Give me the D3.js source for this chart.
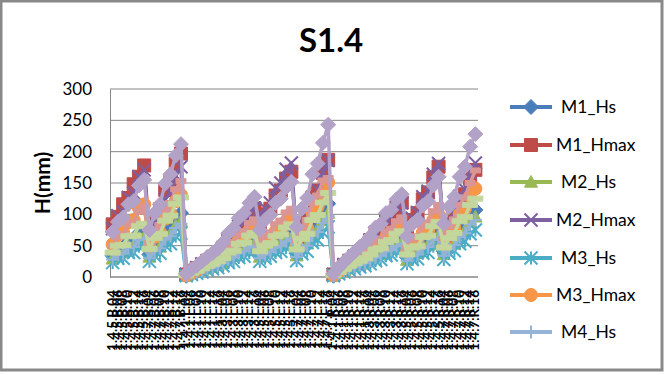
<!DOCTYPE html>
<script src="https://cdn.jsdelivr.net/npm/d3@7"></script>
<html>
<head>
<style>
  body { margin: 0; background: #fff; }
  text { font-family: Lato, "Open Sans", sans-serif; }
</style>
</head>
<body>
<div id="chart-div"></div>
<script>
// category labels: group code x wave height code
const groupCodes = ["5.B", "7.B", "1.L", "3.L", "5.L", "7.L", "1.R", "3.R", "5.R", "7.R"];
const heightCodes = ["04", "06", "08", "10", "12", "14", "16"];
const categories = groupCodes.flatMap(g => heightCodes.map(h => "1.4." + g + "." + h));

const seriesNames = ["M1_Hs", "M1_Hmax", "M2_Hs", "M2_Hmax", "M3_Hs", "M3_Hmax", "M4_Hs", "M4_Hmax", "M5_Hs", "M5_Hmax"];

const m1Hs = [34,44,45,56,58,70,74, 36,49,56,72,79,93,102, 2,6,9,12,15,18,22, 26,34,37,45,49,57,61, 36,43,48,56,60,68,73, 38,52,60,79,87,103,117, 2,7,12,15,19,23,26, 31,37,41,49,52,59,63, 31,40,44,55,58,70,77, 41,54,61,77,84,100,107];
const m1Hmax = [84,96,116,126,148,160,178, 70,95,108,139,152,181,197, 4,10,14,20,26,30,36, 47,60,66,80,86,101,109, 82,100,109,130,138,157,168, 62,85,96,127,138,166,187, 4,12,19,26,32,38,44, 59,70,77,91,97,111,119, 72,91,102,124,135,159,176, 64,84,96,120,132,156,171];
const m2Hs = [29,38,39,49,51,62,65, 32,43,48,63,69,82,89, 2,5,8,11,13,16,19, 23,30,33,40,43,50,54, 32,38,42,49,53,60,64, 34,46,53,69,76,90,102, 2,6,10,13,17,20,23, 27,33,36,43,45,52,55, 27,36,38,48,51,62,67, 36,47,53,68,74,88,96];
const m2Hmax = [77,98,104,127,134,160,171, 62,84,97,124,135,162,176, 4,9,15,21,25,31,35, 46,59,67,81,87,100,110, 90,110,118,142,150,172,182, 63,84,97,126,139,167,186, 4,11,20,25,33,37,45, 58,71,76,92,96,112,118, 73,94,103,128,137,164,181, 68,90,102,129,140,167,182];
const m3Hs = [23,30,30,39,39,49,51, 25,34,38,50,53,65,70, 2,4,6,8,11,13,15, 18,23,25,31,33,39,42, 25,30,33,39,41,47,50, 26,37,41,55,59,71,80, 2,5,8,11,13,16,18, 21,26,28,34,35,41,44, 21,28,29,38,39,49,53, 28,38,42,53,57,69,75];
const m3Hmax = [52,67,71,87,91,110,116, 47,64,71,93,101,121,131, 3,7,11,16,20,24,28, 34,44,48,59,62,74,79, 47,57,61,73,77,89,94, 50,68,78,102,112,133,151, 3,9,15,20,25,30,34, 40,49,53,63,66,77,82, 40,53,56,71,75,91,99, 53,70,79,100,109,129,141];
const m4Hs = [28,36,37,47,48,59,62, 30,41,46,60,65,78,85, 2,5,7,10,13,15,18, 22,28,31,38,41,47,51, 30,36,40,47,50,57,61, 32,44,50,66,72,86,97, 2,6,10,13,16,19,22, 26,31,34,41,43,49,53, 26,34,36,46,48,59,64, 34,45,51,64,70,84,91];
const m4Hmax = [50,64,68,84,87,105,112, 54,74,83,107,118,140,153, 4,9,13,18,23,27,32, 40,51,56,68,73,86,92, 54,65,71,85,90,103,109, 58,79,91,118,130,154,158, 4,11,17,23,29,35,40, 47,57,61,73,77,89,95, 47,61,65,82,87,105,115, 61,81,92,115,127,150,170];
const m5Hs = [39,50,51,65,66,81,85, 45,62,69,90,98,117,127, 3,7,10,14,18,21,25, 30,39,42,53,55,66,70, 41,50,54,65,68,79,84, 44,61,69,91,99,119,134, 3,8,13,18,22,26,30, 36,44,46,56,59,69,73, 36,47,49,64,66,81,88, 47,62,70,89,96,115,125];
const m5Hmax = [72,88,95,116,121,146,155, 75,102,116,149,164,194,212, 5,12,18,25,32,38,45, 55,70,78,94,102,118,128, 75,91,99,118,125,143,152, 80,109,126,164,181,214,243, 5,15,24,32,40,48,55, 65,79,85,102,107,124,132, 65,84,91,114,121,146,160, 85,112,128,160,176,208,228];

const yTicks = [0, 50, 100, 150, 200, 250, 300];

// styles
const colors = ["#4A7EBB", "#BE4B48", "#98B954", "#7D60A0", "#4BACC6", "#F79646", "#95B3D7", "#D99694", "#C3D69B", "#B3A2C7"];
const markers = ["diamond", "square", "triangle", "x", "star", "circle", "plus", "dash", "bar", "diamond"];
const allValues = [m1Hs, m1Hmax, m2Hs, m2Hmax, m3Hs, m3Hmax, m4Hs, m4Hmax, m5Hs, m5Hmax];
const series = seriesNames.map((name, i) => ({ name, color: colors[i], marker: markers[i], values: allValues[i] }));

const width = 664, height = 375;
const plot = { left: 110, right: 478, top: 89, bottom: 277 };

const svg = d3.select("#chart-div")
    .append("svg")
    .attr("width", width)
    .attr("height", height);

svg.append("rect")
    .attr("width", width).attr("height", height).attr("fill", "#fff");

const x = d3.scalePoint()
    .domain(categories)
    .range([plot.left, plot.right])
    .padding(0.5);

const y = d3.scaleLinear()
    .domain([0, 300])
    .range([plot.bottom, plot.top]);

// gridlines
svg.append("g")
    .selectAll("line")
    .data(yTicks)
    .enter()
    .append("line")
    .attr("x1", plot.left).attr("x2", plot.right)
    .attr("y1", d => y(d)).attr("y2", d => y(d))
    .attr("stroke", "#868686").attr("stroke-width", 1);

// y axis
const yAxis = svg.append("g")
    .attr("transform", "translate(" + plot.left + ",0)")
    .call(d3.axisLeft(y).tickValues(yTicks).tickSize(0).tickPadding(18));
yAxis.select(".domain").attr("stroke", "#868686");
yAxis.selectAll("text")
    .style("font-family", "Lato, sans-serif")
    .style("font-size", "17px")
    .attr("fill", "#000");

// x axis line
svg.append("line")
    .attr("x1", plot.left).attr("x2", plot.right)
    .attr("y1", plot.bottom).attr("y2", plot.bottom)
    .attr("stroke", "#868686");

// x labels, rotated
svg.append("g")
    .selectAll("text")
    .data(categories)
    .enter()
    .append("text")
    .attr("transform", d => "translate(" + (x(d) + 4) + ",290) rotate(-90)")
    .attr("text-anchor", "end")
    .style("font-size", "13.5px")
    .style("font-weight", "bold")
    .attr("fill", "#000")
    .text(d => d);

function markerPath(shape, s) {
    const h = s / 2;
    switch (shape) {
        case "diamond": return `M0,${-h}L${h},0L0,${h}L${-h},0Z`;
        case "square": return `M${-h},${-h}h${s}v${s}h${-s}Z`;
        case "triangle": return `M0,${-h}L${h},${h * 0.8}L${-h},${h * 0.8}Z`;
        case "x": return `M${-h},${-h}L${h},${h}M${h},${-h}L${-h},${h}`;
        case "star": return `M${-h},${-h}L${h},${h}M${h},${-h}L${-h},${h}M0,${-h}V${h}`;
        case "circle": return d3.arc()({ innerRadius: 0, outerRadius: h, startAngle: 0, endAngle: 2 * Math.PI });
        case "plus": return `M0,${-h}V${h}M${-h},0H${h}`;
        case "dash": return `M${-h},-2.5h${s}v5h${-s}Z`;
        case "bar": return `M${-h},-2.5h${s}v5h${-s}Z`;
    }
}
const markerSize = { diamond: 15, square: 13, triangle: 13, x: 13, star: 13, circle: 13, plus: 13, dash: 10, bar: 15 };
const stroked = { x: true, star: true, plus: true };

function drawMarker(g, shape, color) {
    g.append("path")
        .attr("d", markerPath(shape, markerSize[shape]))
        .attr("fill", stroked[shape] ? "none" : color)
        .attr("stroke", color)
        .attr("stroke-width", stroked[shape] ? 2 : 1);
}

const line = d3.line()
    .x((d, i) => x(categories[i]))
    .y(d => y(d));

// series, drawn in order
series.forEach(s => {
    const g = svg.append("g");
    g.append("path")
        .attr("d", line(s.values))
        .attr("fill", "none")
        .attr("stroke", s.color)
        .attr("stroke-width", 3.5)
        .attr("stroke-linejoin", "round");
    s.values.forEach((v, i) => {
        const m = g.append("g").attr("transform", "translate(" + x(categories[i]) + "," + y(v) + ")");
        drawMarker(m, s.marker, s.color);
    });
});

// title
svg.append("text")
    .attr("x", 331).attr("y", 52)
    .attr("text-anchor", "middle")
    .style("font-size", "33px")
    .style("font-weight", "bold")
    .text("S1.4");

// y axis title
svg.append("text")
    .attr("transform", "translate(50,183) rotate(-90)")
    .attr("text-anchor", "middle")
    .style("font-size", "21px")
    .style("font-weight", "bold")
    .text("H(mm)");

// legend (only the first seven fit)
const legendY = [107, 145, 182, 220, 258, 295, 332];
const legend = svg.append("g");
series.slice(0, 7).forEach((s, i) => {
    const g = legend.append("g").attr("transform", "translate(0," + legendY[i] + ")");
    g.append("line")
        .attr("x1", 510).attr("x2", 552)
        .attr("stroke", s.color).attr("stroke-width", 4);
    const m = g.append("g").attr("transform", "translate(531,0)");
    drawMarker(m, s.marker, s.color);
    g.append("text")
        .attr("x", s.name.indexOf("Hmax") >= 0 ? 556 : 561)
        .attr("dy", "0.36em")
        .style("font-size", "17.5px")
        .text(s.name);
});

// chart border
svg.append("rect")
    .attr("x", 1).attr("y", 1)
    .attr("width", 661).attr("height", 369)
    .attr("fill", "none")
    .attr("stroke", "#898989")
    .attr("stroke-width", 3);
</script>
</body>
</html>
